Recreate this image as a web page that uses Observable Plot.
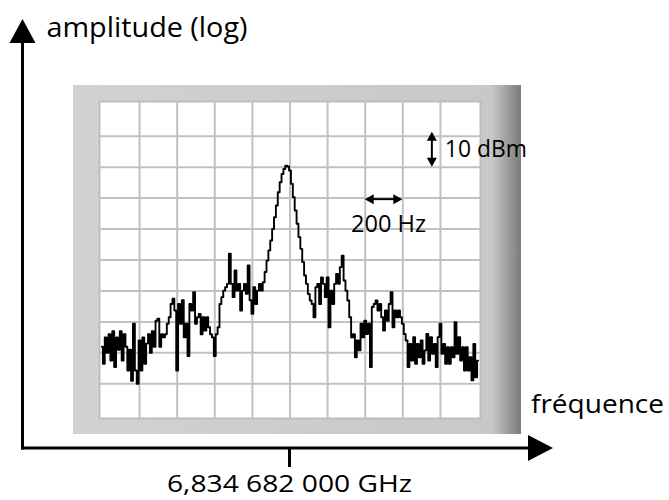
<!DOCTYPE html>
<html><head><meta charset="utf-8">
<script src="https://cdn.jsdelivr.net/npm/d3@7"></script>
<script src="https://cdn.jsdelivr.net/npm/@observablehq/plot@0.6"></script>
<style>html,body{margin:0;padding:0;background:#fff;} #chart{width:669px;height:500px;}</style>
</head><body><div id="chart"></div>
<script>
// ---- data ----
const freqHz = [
-1000,-990,-980,-970,-960,-950,-940,-930,-920,-910,
-900,-890,-880,-870,-860,-850,-840,-830,-820,-810,
-800,-790,-780,-770,-760,-750,-740,-730,-720,-710,
-700,-690,-680,-670,-660,-650,-640,-630,-620,-610,
-600,-590,-580,-570,-560,-550,-540,-530,-520,-510,
-500,-490,-480,-470,-460,-450,-440,-430,-420,-410,
-400,-390,-380,-370,-360,-350,-340,-330,-320,-310,
-300,-290,-280,-270,-260,-250,-240,-230,-220,-210,
-200,-190,-180,-170,-160,-150,-140,-130,-120,-110,
-100,-90,-80,-70,-60,-50,-40,-30,-20,-10,
0,10,20,30,40,50,60,70,80,90,
100,110,120,130,140,150,160,170,180,190,
200,210,220,230,240,250,260,270,280,290,
300,310,320,330,340,350,360,370,380,390,
400,410,420,430,440,450,460,470,480,490,
500,510,520,530,540,550,560,570,580,590,
600,610,620,630,640,650,660,670,680,690,
700,710,720,730,740,750,760,770,780,790,
800,810,820,830,840,850,860,870,880,890,
900,910,920,930,940,950,960,970,980,990,
1000];
const levelDbm = [
-78,-83.5,-75,-80,-74,-82.5,-73,-84.6,-75,-79,
-73,-82.5,-74,-78,-85.7,-79,-89,-70.6,-85.7,-90,
-76,-85.7,-75,-83.5,-77,-74,-80,-73,-78,-69.6,
-69,-78,-74,-75,-74,-70.6,-68.5,-64.2,-62.5,-66.3,
-85.7,-64.2,-70.6,-63,-75,-70.6,-81,-64.2,-66.3,-60.4,
-70.6,-68.5,-67.4,-74,-68.5,-72.8,-68.5,-71.7,-74,-75,
-81,-74,-71.7,-64.2,-62,-59.9,-58.8,-57.7,-48,-57.7,
-62,-53.4,-59.9,-57.7,-66.3,-59.9,-57.7,-60.9,-51.8,-63,
-67.4,-58.8,-64.2,-59.9,-57.7,-59.9,-57.2,-53.9,-50.2,-46.9,
-43.7,-40,-36.2,-32.4,-28.1,-24.9,-22.2,-20.6,-19.5,-19.8,
-21.1,-25.4,-29.7,-34,-38.3,-42.6,-46.4,-50.7,-55,-57.7,
-61,-63.1,-64.2,-68.5,-58.8,-57.7,-64.2,-55.6,-57.7,-62,
-55.6,-71.7,-59.9,-64.2,-57.7,-54.5,-57.7,-52.3,-48.6,-56.6,
-59.9,-63.1,-68.5,-75,-74,-81.4,-76,-79.2,-70.6,-75,
-69.6,-73.9,-70.6,-84.6,-65.2,-64.2,-63.1,-66.3,-64.2,-68.5,
-72.8,-66.3,-69.6,-64.2,-60.4,-71.7,-66.3,-68.5,-66.3,-68.5,
-70.6,-73.9,-76,-84.6,-77.1,-82.5,-74.9,-83.5,-77.1,-81.4,
-76,-83.5,-79.2,-73.9,-82.5,-74.9,-80.3,-77.1,-84.6,-74.9,
-70.6,-80.3,-77.1,-83.5,-78.2,-83.5,-78.2,-81.4,-70.1,-80.3,
-74.9,-82.5,-78.2,-85.7,-78.2,-85.7,-81.4,-88.9,-77.1,-87.9,
-82.5];
const xGridHz = [-800,-600,-400,-200,0,200,400,600,800];
const yGridDbm = [-10,-20,-30,-40,-50,-60,-70,-80,-90];
const centerFreqHz = 0;
const centerLabel = "6,834 682 000 GHz";
const xAxisLabel = "fréquence";
const yAxisLabel = "amplitude (log)";
const freqDivLabel = "200 Hz";
const freqDivSpan = [400, 600];
const freqDivLevel = -30.5;
const ampDivLabel = "10 dBm";
const ampDivSpan = [-8.7, -20];
const ampDivFreq = 757;

// ---- chart ----
const trace = freqHz.map((f, i) => ({f, v: levelDbm[i]}));
const FONT = "'Open Sans', 'Noto Sans', sans-serif";
const plot = Plot.plot({
  width: 669, height: 500,
  marginLeft: 99, marginRight: 189, marginTop: 101, marginBottom: 82,
  x: {domain: [-1013, 1013], axis: null},
  y: {domain: [-101.2, 1.2], axis: null},
  style: {background: "transparent", overflow: "visible"},
  marks: [
    Plot.frame({fill: "white", stroke: "#bdbdbd", strokeWidth: 2}),
    Plot.ruleX(xGridHz, {stroke: "#c1c1c1", strokeWidth: 2, strokeOpacity: 1}),
    Plot.ruleY(yGridDbm, {stroke: "#c1c1c1", strokeWidth: 2, strokeOpacity: 1}),
    Plot.line(trace, {x: "f", y: "v", curve: "step", stroke: "black", strokeWidth: 1.9})
  ]
});
document.getElementById("chart").appendChild(plot);

const sx = plot.scale("x"), sy = plot.scale("y");
const X = v => sx.apply(v), Y = v => sy.apply(v);
const [fx0, fx1] = sx.range;
const fy0 = Math.min(...sy.range), fy1 = Math.max(...sy.range);
const svg = d3.select(plot);

// bezel
const bx0 = fx0 - 26, bx1 = fx1 + 41, by0 = fy0 - 16, by1 = fy1 + 16;
const defs = svg.insert("defs", ":first-child");
const g = defs.append("linearGradient").attr("id", "bezelGrad")
  .attr("gradientUnits", "userSpaceOnUse")
  .attr("x1", bx0).attr("x2", bx1).attr("y1", 0).attr("y2", 0);
g.append("stop").attr("offset", 0).attr("stop-color", "#d2d2d2");
g.append("stop").attr("offset", (fx1 + 12 - bx0) / (bx1 - bx0)).attr("stop-color", "#c8c8c8");
g.append("stop").attr("offset", 1).attr("stop-color", "#7b7b7b");
svg.insert("rect", "defs + *")
  .attr("x", bx0).attr("y", by0).attr("width", bx1 - bx0).attr("height", by1 - by0)
  .attr("fill", "url(#bezelGrad)");

// main axes (arrows)
const axX = bx0 - 50.5, axY = by1 + 14, axTop = 19, axRight = 553;
const ax = svg.append("g").attr("fill", "black").attr("stroke", "black");
ax.append("line").attr("x1", axX).attr("x2", axX).attr("y1", axTop + 22).attr("y2", axY + 1.5).attr("stroke-width", 3);
ax.append("path").attr("stroke", "none").attr("d", `M${axX},${axTop} L${axX + 13},${axTop + 24} L${axX - 13},${axTop + 24} Z`);
ax.append("line").attr("x1", axX - 1.5).attr("x2", axRight - 22).attr("y1", axY).attr("y2", axY).attr("stroke-width", 3);
ax.append("path").attr("stroke", "none").attr("d", `M${axRight},${axY} L${axRight - 25},${axY - 13} L${axRight - 25},${axY + 13} Z`);
ax.append("line").attr("x1", X(centerFreqHz)).attr("x2", X(centerFreqHz)).attr("y1", axY).attr("y2", axY + 19).attr("stroke-width", 3);

// division arrows
function dblArrowV(x, y1, y2) {
  const h = 9, w = 5;
  ax.append("line").attr("x1", x).attr("x2", x).attr("y1", y1 + h - 1).attr("y2", y2 - h + 1).attr("stroke-width", 2);
  ax.append("path").attr("stroke", "none").attr("d", `M${x},${y1} L${x + w},${y1 + h} L${x - w},${y1 + h} Z M${x},${y2} L${x + w},${y2 - h} L${x - w},${y2 - h} Z`);
}
function dblArrowH(y, x1, x2) {
  const h = 9, w = 5;
  ax.append("line").attr("y1", y).attr("y2", y).attr("x1", x1 + h - 1).attr("x2", x2 - h + 1).attr("stroke-width", 2);
  ax.append("path").attr("stroke", "none").attr("d", `M${x1},${y} L${x1 + h},${y - w} L${x1 + h},${y + w} Z M${x2},${y} L${x2 - h},${y - w} L${x2 - h},${y + w} Z`);
}
dblArrowV(X(ampDivFreq), Y(ampDivSpan[0]), Y(ampDivSpan[1]));
dblArrowH(Y(freqDivLevel), X(freqDivSpan[0]), X(freqDivSpan[1]));

// texts
function txt(s, x, y, size, len, anchor = "start") {
  svg.append("text").text(s).attr("x", x).attr("y", y)
    .attr("font-family", FONT).attr("font-size", size).attr("fill", "black")
    .attr("text-anchor", anchor)
    .attr("textLength", len).attr("lengthAdjust", "spacingAndGlyphs");
}
txt(yAxisLabel, axX + 24, 36.5, 27, 201);
txt(xAxisLabel, bx1 + 10, 413, 25, 133);
txt(centerLabel, X(centerFreqHz), 491.5, 23.5, 245, "middle");
txt(ampDivLabel, X(ampDivFreq) + 13, 157.3, 24, 82);
txt(freqDivLabel, X((freqDivSpan[0] + freqDivSpan[1]) / 2) + 5, 231.5, 24, 75, "middle");
</script>
</body></html>
